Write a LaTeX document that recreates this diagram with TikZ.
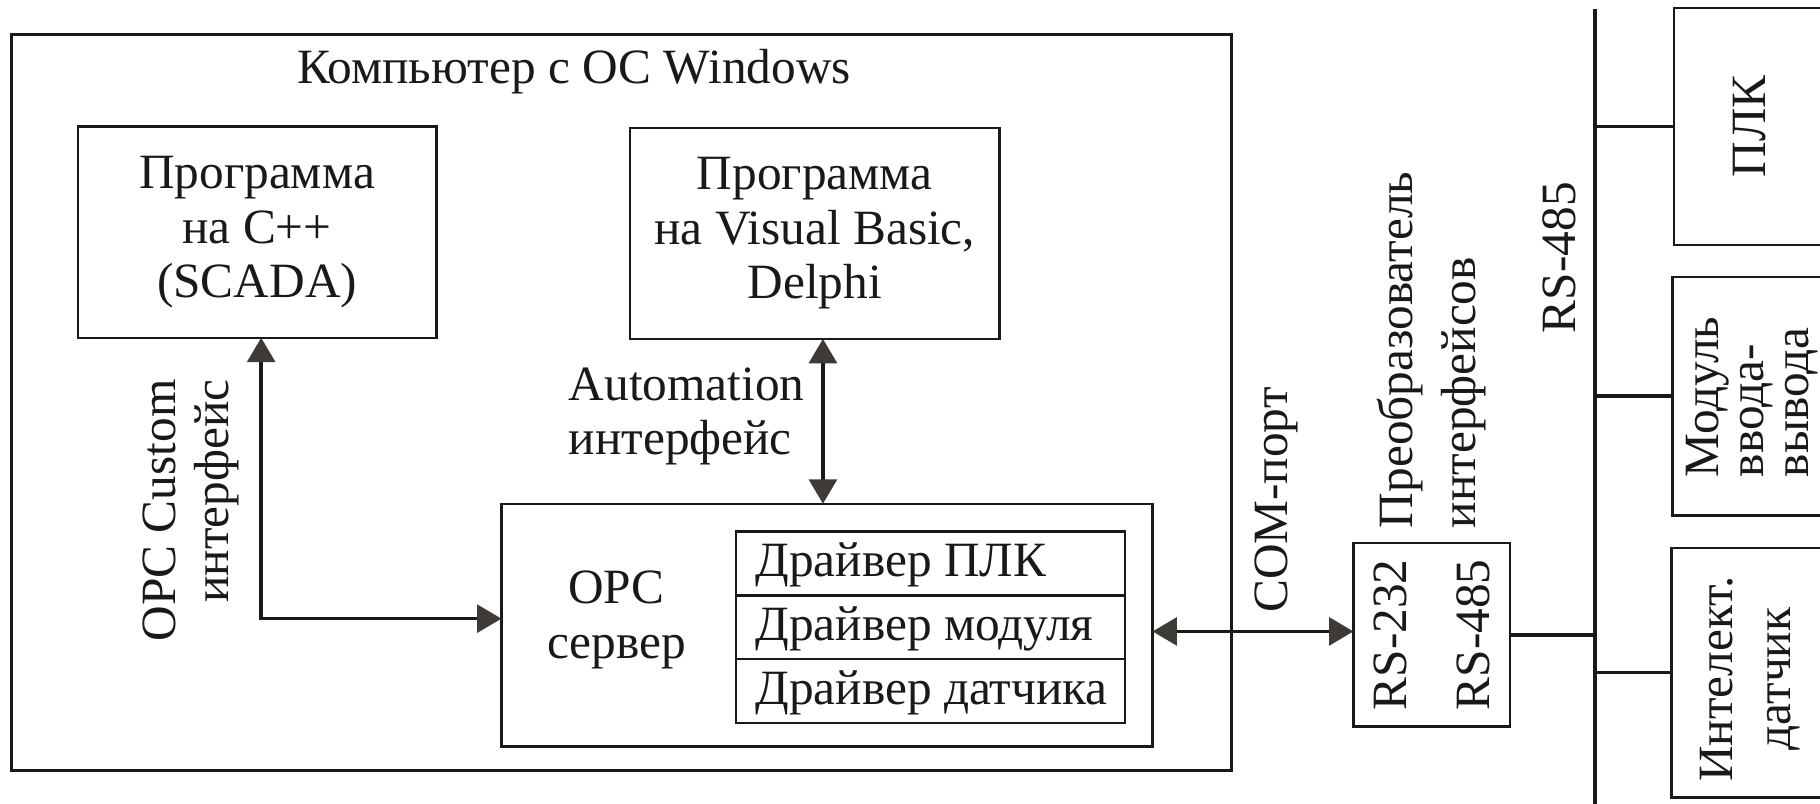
\documentclass[tikz,border=0pt]{standalone}
\usepackage{fontspec}
\setmainfont{Liberation Serif}
\usetikzlibrary{arrows.meta}
\definecolor{ink}{RGB}{25,25,25}
\definecolor{tipgray}{RGB}{62,58,54}
\begin{document}
\begin{tikzpicture}[x=1pt,y=1pt,
  every node/.style={font=\fontsize{42.5}{47}\selectfont, inner sep=0pt, outer sep=0pt, text=ink},
  box/.style={draw=ink, line width=2pt, rectangle},
  drv/.style={box, anchor=north west, minimum width=335pt, minimum height=55pt},
  drvtext/.style={anchor=west, xshift=17pt, yshift=-1pt},
  dev/.style={box, anchor=north west, minimum width=170pt},
  vlabel/.style={rotate=90},
  wire/.style={draw=ink, line width=3pt},
  dbl/.style={wire, {Triangle[length=21pt,width=24pt,color=tipgray]}-{Triangle[length=21pt,width=24pt,color=tipgray]}}
]
\useasboundingbox (0,0) rectangle (1568,-692);
\fill[white] (0,0) rectangle (1568,-692);
\clip (0,0) rectangle (1568,-692);

% ---- Windows computer ----
\node[box, line width=2.5pt, anchor=north west, minimum width=1051pt, minimum height=634pt] (pc) at (10,-30) {};
\node[anchor=base west] (pctitle) at (256,-72) {Компьютер с ОС Windows};

\node[box, minimum width=309pt, minimum height=182pt, align=center] (cpp) at (221.5,-200)
  {Программа\\на C++\\(SCADA)};
\node[box, minimum width=318pt, minimum height=182pt, align=center] (vb) at (702,-201)
  {Программа\\на Visual Basic,\\Delphi};

% OPC server with its drivers
\node[box, minimum width=561pt, minimum height=209pt] (opc) at (712.5,-538.5) {};
\node[align=center] (opclabel) at (531,-534) {OPC\\сервер};
\node[drv] (drv1) at (634,-458) {};
\node[drv] (drv2) at (drv1.south west) {};
\node[drv] (drv3) at (drv2.south west) {};
\node[drvtext] (drv1text) at (drv1.west) {Драйвер ПЛК};
\node[drvtext] (drv2text) at (drv2.west) {Драйвер модуля};
\node[drvtext] (drv3text) at (drv3.west) {Драйвер датчика};

% OPC Custom interface
\coordinate (cppx) at (225,0);
\coordinate (cpprow) at (0,-533);
\draw[dbl] (cpp.south -| cppx) |- (opc.west |- cpprow);
\node[vlabel, align=right, anchor=east, font=\fontsize{42.5}{46}\selectfont] (custlabel)
  at (164.5,-327) {OPC Custom\\интерфейс};

% Automation interface
\coordinate (autox) at (709,0);
\draw[dbl] (vb.south -| autox) -- (opc.north -| autox);
\node[align=left, anchor=north west, font=\fontsize{42.5}{46}\selectfont] (autolabel)
  at (490,-317) {Automation\\интерфейс};

% ---- interface converter ----
\node[box, minimum width=135pt, minimum height=158pt] (conv) at (1233.5,-547) {};
\node[vlabel, align=center, font=\fontsize{42.5}{72}\selectfont] (convtext) at (conv.center)
  {RS-232\\RS-485};
\node[vlabel, align=left, anchor=west, font=\fontsize{42.5}{54}\selectfont] (convlabel)
  at ([yshift=13pt]conv.north) {Преобразователь\\интерфейсов};

\coordinate (comrow) at (0,-544);
\draw[dbl] (opc.east |- comrow) -- (conv.west |- comrow);
\node[vlabel, anchor=west] (comlabel) at (1100,-528) {COM-порт};

% ---- RS-485 bus and field devices ----
\coordinate (bustop) at (1374,-8);
\coordinate (busbot) at (1374,-700);
\draw[wire, line width=3.4pt] (bustop) -- (busbot);
\node[vlabel] (buslabel) at (1343,-222) {RS-485};
\draw[wire] (conv.east) -- (conv.east -| bustop);

\node[dev, minimum height=204pt] (plc) at (1442,-7) {};
\node[vlabel] (plctext) at (1507,-109) {ПЛК};

\node[dev, minimum height=205.5pt] (mod) at (1441,-238.5) {};
\node[vlabel, align=left, font=\fontsize{42.5}{39}\selectfont] (modtext) at (1509.5,-342)
  {Модуль\\ввода-\\вывода};

\node[dev, minimum height=215pt] (sens) at (1440,-472) {};
\node[vlabel, align=center, font=\fontsize{42.5}{50}\selectfont] (senstext) at (1508,-585)
  {Интелект.\\датчик};

\draw[wire] (plc.west -| bustop) -- (plc.west);
\draw[wire] (mod.west -| bustop) -- (mod.west);
\draw[wire] (sens.west -| bustop) -- (sens.west);
\end{tikzpicture}
\end{document}
